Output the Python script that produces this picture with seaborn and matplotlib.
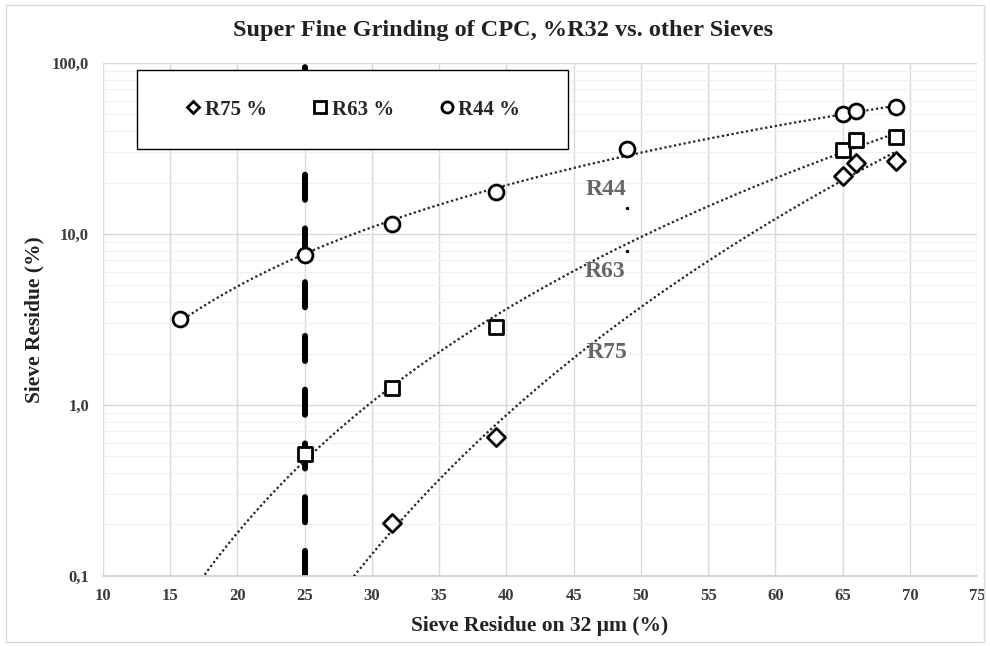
import numpy as np
import pandas as pd
import seaborn as sns
import matplotlib
matplotlib.use("Agg")
import matplotlib.pyplot as plt
from matplotlib.patches import Rectangle
from matplotlib.lines import Line2D
from matplotlib.ticker import FixedLocator, LogLocator, NullFormatter

# ---- data ----
r32_r44 = [15.7, 25.0, 31.5, 39.2, 49.0, 65.0, 66.0, 69.0]
r44 = [3.2, 7.5, 11.4, 17.5, 31.6, 50.0, 52.4, 55.3]
r32_r63 = [25.0, 31.5, 39.2, 65.0, 66.0, 69.0]
r63 = [0.52, 1.26, 2.86, 31.0, 35.4, 36.9]
r32_r75 = [31.5, 39.2, 65.0, 66.0, 69.0]
r75 = [0.205, 0.65, 21.8, 26.0, 26.7]
dots_x = [49.0, 49.0]
dots_y = [14.2, 7.95]
trend_start, trend_end = 15.7, 69.0
limit_x = 25.0
x_ticks = [10, 15, 20, 25, 30, 35, 40, 45, 50, 55, 60, 65, 70, 75]
y_ticks = [0.1, 1, 10, 100]
y_tick_labels = ["0,1", "1,0", "10,0", "100,0"]
curve_labels = ["R44", "R63", "R75"]
curve_label_x = [47.4, 47.3, 47.5]
curve_label_y = [18.1, 6.0, 2.04]

sns.set_theme(style="white")
plt.rcParams['font.family'] = ['Liberation Serif', 'DejaVu Serif']
plt.rcParams['font.weight'] = 'bold'

fig = plt.figure(figsize=(9.9, 6.46), dpi=100)
ax = fig.add_axes([0.104, 0.1084, 0.883, 0.7941])
ax.set_yscale('log')
ax.set_xlim(10, 75)
ax.set_ylim(0.1, 100)

# grid
ax.xaxis.set_major_locator(FixedLocator(x_ticks))
ax.yaxis.set_major_locator(FixedLocator(y_ticks))
ax.yaxis.set_minor_locator(LogLocator(base=10, subs=np.arange(2, 10)))
ax.yaxis.set_minor_formatter(NullFormatter())
ax.grid(True, which='major', color='#d9d9d9', linewidth=1.0)
ax.grid(True, which='minor', axis='y', color='#f0f0f0', linewidth=0.8)
ax.set_axisbelow(True)
for s in ['left', 'right', 'top']:
    ax.spines[s].set_visible(False)
ax.spines['bottom'].set_color('#d0d0d0')
ax.tick_params(axis='both', which='both', length=0, labelsize=12, labelcolor='#3a3a3a')
ax.tick_params(axis='x', pad=9)
ax.tick_params(axis='y', pad=10)
ax.set_yticklabels(y_tick_labels)
ax.set_xticklabels([str(t) for t in x_ticks])
for lab in ax.get_xticklabels() + ax.get_yticklabels():
    lab.set_fontweight('bold')

# vertical dashed limit line
ax.axvline(limit_x, color='black', linewidth=4.3, linestyle=(0, (4.2, 4.8)),
           dash_capstyle='round', zorder=2)

# power trendlines
def power_fit(x, y):
    b, a = np.polyfit(np.log(x), np.log(y), 1)
    xs = np.linspace(trend_start, trend_end, 300)
    return xs, np.exp(a) * xs ** b

for xv, yv in [(r32_r44, r44), (r32_r63, r63), (r32_r75, r75)]:
    xs, ys = power_fit(np.array(xv), np.array(yv))
    sns.lineplot(x=xs, y=ys, ax=ax, color='#222222', linewidth=1.6,
                 linestyle=(0, (1, 1.2)), zorder=3, legend=False)

# markers
mk = dict(s=115, facecolor='white', edgecolor='black', linewidth=2.0, zorder=4, legend=False)
sns.scatterplot(x=r32_r75, y=r75, ax=ax, marker='D', **{**mk, 's': 85})
sns.scatterplot(x=r32_r63, y=r63, ax=ax, marker='s', **mk)
sns.scatterplot(x=r32_r44, y=r44, ax=ax, marker='o', **mk)
sns.scatterplot(x=dots_x, y=dots_y, ax=ax, color='black', s=6, linewidth=0, zorder=4, legend=False)

# curve labels
for txt, xx, yy in zip(curve_labels, curve_label_x, curve_label_y):
    ax.text(xx, yy, txt, color='#666666', fontsize=17, fontweight='bold',
            ha='center', va='center', zorder=5)

# legend box
ax.add_patch(Rectangle((0.039, 0.832), 0.493, 0.154, transform=ax.transAxes,
                       facecolor='white', edgecolor='black', linewidth=1.0, zorder=6))
handles = [
    Line2D([], [], marker='D', linestyle='none', markersize=6.5, markerfacecolor='white', markeredgecolor='black', markeredgewidth=2),
    Line2D([], [], marker='s', linestyle='none', markersize=8, markerfacecolor='white', markeredgecolor='black', markeredgewidth=2),
    Line2D([], [], marker='o', linestyle='none', markersize=8, markerfacecolor='white', markeredgecolor='black', markeredgewidth=2),
]
leg = ax.legend(handles, ["R75 %", "R63 %", "R44 %"], ncol=3, frameon=False,
                loc='center', bbox_to_anchor=(0.2845, 0.909), handletextpad=0.05,
                columnspacing=2.05, handlelength=1.0,
                prop={'family': 'Liberation Serif', 'weight': 'bold', 'size': 15})
leg.set_zorder(7)

ax.set_xlabel("Sieve Residue on 32 µm (%)", fontsize=15.5, fontweight='bold', color='#222222', labelpad=8)
ax.set_ylabel("Sieve Residue (%)", fontsize=15.5, fontweight='bold', color='#222222', labelpad=5)
fig.suptitle("Super Fine Grinding of CPC, %R32 vs. other Sieves", x=0.508, y=0.969,
             fontsize=17.5, fontweight='bold', color='#222222')

# outer chart border
fig.add_artist(Rectangle((0.006, 0.006), 0.988, 0.986, transform=fig.transFigure,
                         fill=False, edgecolor='#d9d9d9', linewidth=1.0))

fig.savefig("out.png", dpi=100)
